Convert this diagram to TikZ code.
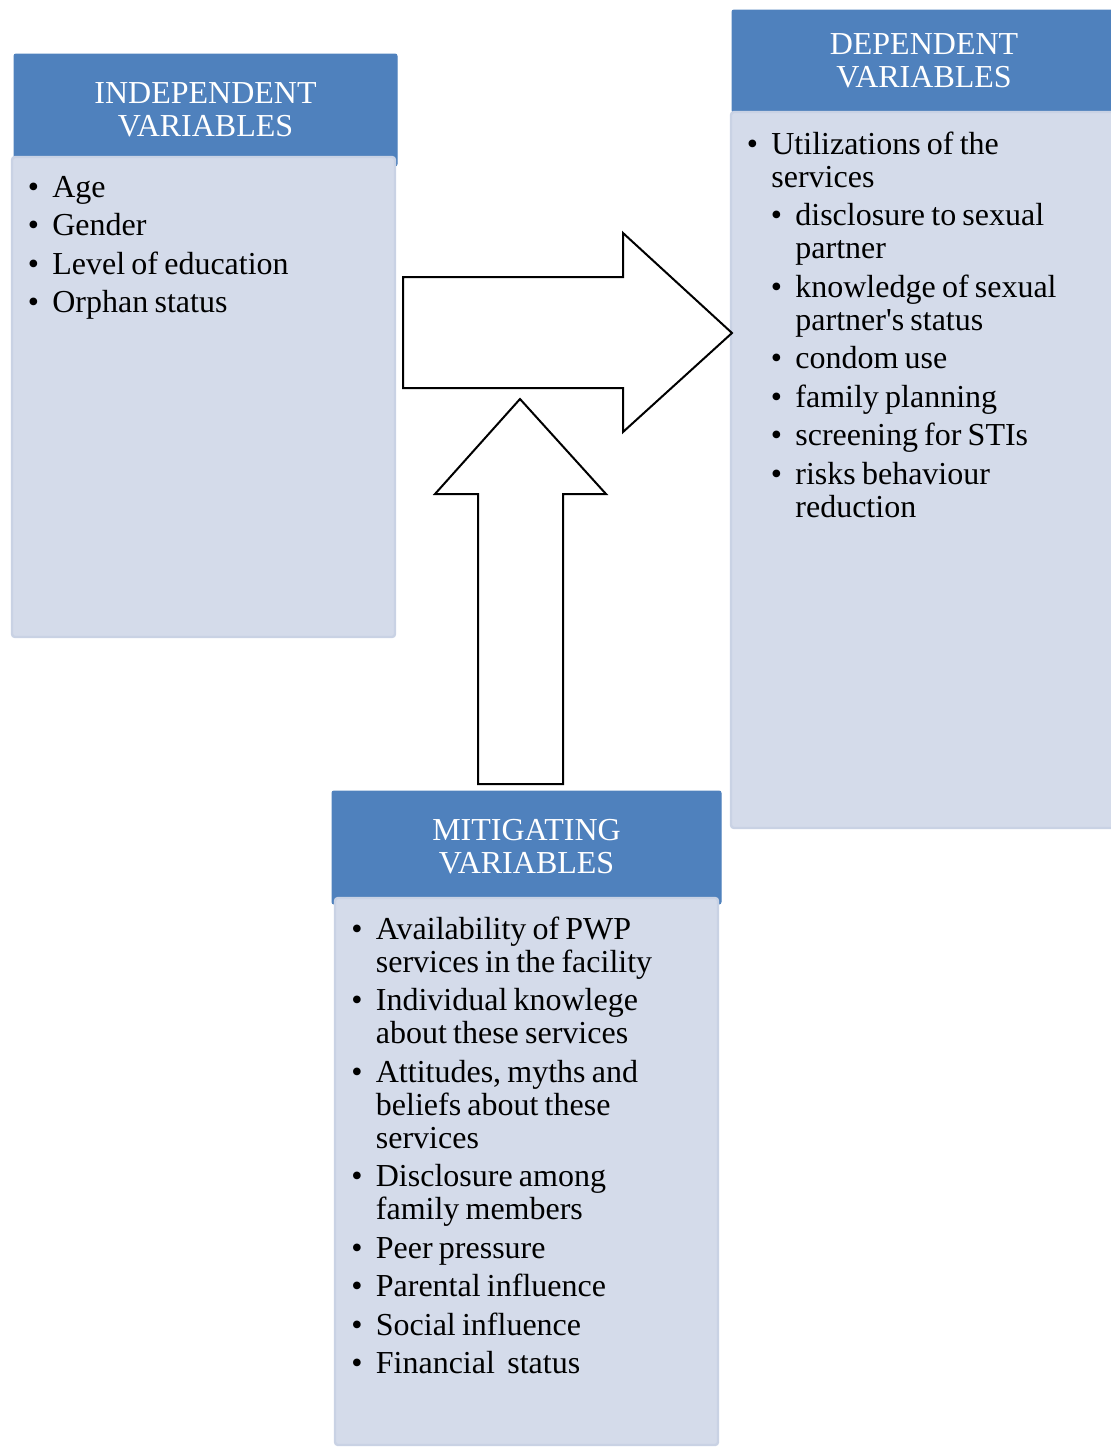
\documentclass[tikz,border=0pt]{standalone}
\usepackage{fontspec}
\setmainfont{Liberation Serif}
\usepackage{xcolor}
\definecolor{hdrblue}{HTML}{4F81BD}
\definecolor{bodyfill}{HTML}{D4DBEA}
\definecolor{bodyline}{HTML}{C9D2E4}
\newlength\bulw \setlength\bulw{12.25pt}
% spacing inside the lists
\newcommand\listsetup{\spaceskip=3.1pt\relax\parskip=2.75pt\relax}
% one bullet paragraph, optional extra indent for sub points
\newcommand\bitem[2][0pt]{\par\noindent\hangindent=\dimexpr#1+\bulw\relax\hangafter=1%
  \hspace*{#1}\makebox[\bulw][l]{\textbullet}#2\par}

\begin{document}
\begin{tikzpicture}[x=0.5pt,y=-0.5pt,
  hdrbox/.style={fill=hdrblue,draw=hdrblue,line width=0.5pt,rounded corners=1pt},
  bodybox/.style={fill=bodyfill,draw=bodyline,line width=1.2pt,rounded corners=1.5pt},
  hdrtxt/.style={text=white,align=center,inner sep=0pt,font=\fontsize{16}{16.5}\selectfont},
  listtxt/.style={anchor=base west,inner sep=0pt,text width=175pt,align=left,
    font=\fontsize{16}{16.5}\selectfont},
  bigarrow/.style={draw=black,fill=white,line width=1pt,line join=miter},
]
\useasboundingbox (0,0) rectangle (1111,1452);
% headers
\draw[hdrbox] (14,54) rectangle (397,166);
\draw[hdrbox] (732,10) rectangle (1116,112);
\draw[hdrbox] (332,791) rectangle (721,904);
% bodies
\draw[bodybox] (12,157) rectangle (395,637);
\draw[bodybox] (731,112) rectangle (1116,828);
\draw[bodybox] (335,898) rectangle (718,1445);
% header texts
\node[hdrtxt] (indH) at (205.5,110) {INDEPENDENT\\VARIABLES};
\node[hdrtxt] (depH) at (924,61) {DEPENDENT\\VARIABLES};
\node[hdrtxt] (mitH) at (526.5,847) {MITIGATING\\VARIABLES};
% lists (first line of the node is empty, hence y - 38.5)
\node[listtxt] (indL) at (27.5,158.5) {\listsetup
  \bitem{Age}
  \bitem{Gender}
  \bitem{Level of education}
  \bitem{Orphan status}};
\node[listtxt] (depL) at (746.5,115.5) {\listsetup
  \bitem{Utilizations of the\newline services}
  \bitem[12pt]{disclosure to sexual\newline partner}
  \bitem[12pt]{knowledge of sexual\newline partner\textquotesingle s status}
  \bitem[12pt]{condom use}
  \bitem[12pt]{family planning}
  \bitem[12pt]{screening for STIs}
  \bitem[12pt]{risks behaviour\newline reduction}};
\node[listtxt] (mitL) at (351,900.5) {\listsetup
  \bitem{Availability of PWP\newline services in the facility}
  \bitem{Individual knowlege\newline about these services}
  \bitem{Attitudes, myths and\newline beliefs about these\newline services}
  \bitem{Disclosure among\newline family members}
  \bitem{Peer pressure}
  \bitem{Parental influence}
  \bitem{Social influence}
  \bitem{Financial\ \ status}};
% block arrows
\draw[bigarrow] (403,277) -- (623,277) -- (623,233) -- (732,333) -- (623,432) -- (623,388) -- (403,388) -- cycle;
\draw[bigarrow] (478,784) -- (478,494) -- (435,494) -- (520,399) -- (606,494) -- (563,494) -- (563,784) -- cycle;
\end{tikzpicture}
\end{document}
